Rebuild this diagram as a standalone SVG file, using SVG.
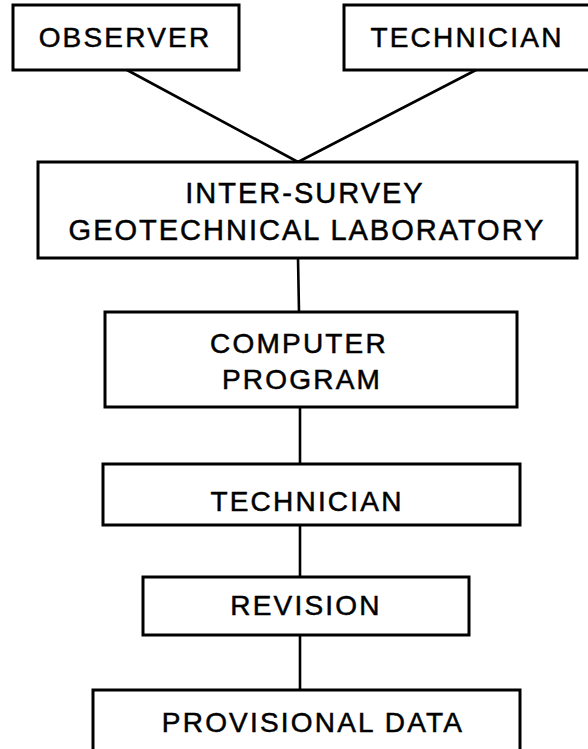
<svg xmlns="http://www.w3.org/2000/svg" width="588" height="749" viewBox="0 0 588 749">
  <style>
    .box { fill: #ffffff; stroke: #000000; stroke-width: 3; }
    .lbl { font-family: "Liberation Sans", Arial, sans-serif; font-size: 28px; fill: #000000; stroke: #000000; stroke-width: 0.5; text-anchor: middle; letter-spacing: 2.2px; }
    .lab { font-size: 29px; letter-spacing: 2px; }
    .wire { stroke: #000000; stroke-width: 2.6; fill: none; stroke-linecap: round; }
  </style>
  <rect width="588" height="749" fill="#ffffff"/>

  <!-- connectors -->
  <g id="connectors">
    <line class="wire" x1="127" y1="70" x2="298" y2="162"/>
    <line class="wire" x1="476" y1="70" x2="298" y2="162"/>
    <line class="wire" x1="298" y1="258" x2="299" y2="312"/>
    <line class="wire" x1="300" y1="407" x2="300" y2="464"/>
    <line class="wire" x1="300" y1="525" x2="300" y2="577"/>
    <line class="wire" x1="300" y1="635" x2="300" y2="690"/>
  </g>

  <g id="observer">
    <rect class="box" x="13" y="5" width="226" height="65"/>
    <text class="lbl" x="125" y="47">OBSERVER</text>
  </g>

  <g id="technician-field">
    <rect class="box" x="344" y="5" width="260" height="65"/>
    <text class="lbl" x="467" y="47">TECHNICIAN</text>
  </g>

  <g id="laboratory">
    <rect class="box" x="38" y="162" width="539" height="96"/>
    <text class="lbl lab" x="305" y="203">INTER-SURVEY</text>
    <text class="lbl lab" x="307" y="240">GEOTECHNICAL LABORATORY</text>
  </g>

  <g id="computer-program">
    <rect class="box" x="105" y="312" width="412" height="95"/>
    <text class="lbl" x="299" y="353">COMPUTER</text>
    <text class="lbl" x="302" y="389">PROGRAM</text>
  </g>

  <g id="technician-office">
    <rect class="box" x="103" y="464" width="417" height="61"/>
    <text class="lbl" x="307" y="511">TECHNICIAN</text>
  </g>

  <g id="revision">
    <rect class="box" x="143" y="577" width="326" height="58"/>
    <text class="lbl" x="306" y="615">REVISION</text>
  </g>

  <g id="provisional-data">
    <rect class="box" x="93" y="690" width="427" height="80"/>
    <text class="lbl" x="313" y="732" letter-spacing="2.9">PROVISIONAL DATA</text>
  </g>
</svg>
